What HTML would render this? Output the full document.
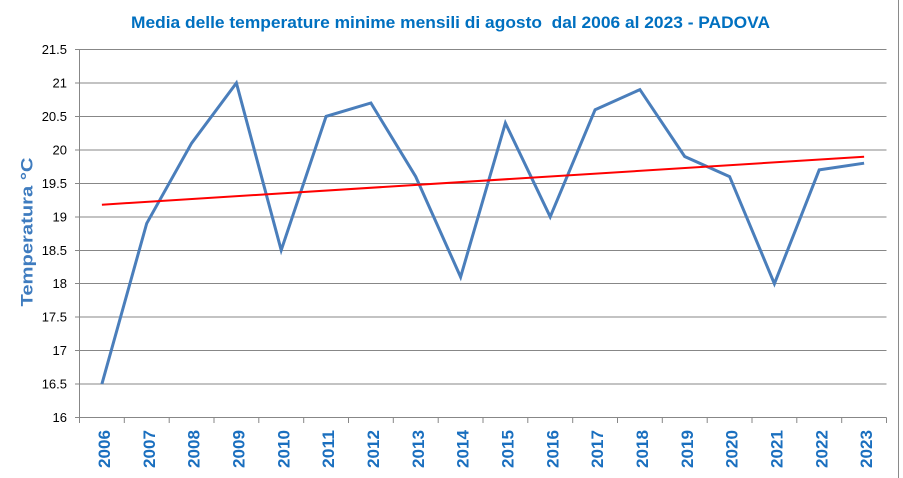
<!DOCTYPE html>
<html>
<head>
<meta charset="utf-8">
<style>
  html, body { margin: 0; padding: 0; background: #ffffff; }
  svg { display: block; }
  text { font-family: "Liberation Sans", sans-serif; }
</style>
</head>
<body>
<svg width="903" height="478" viewBox="0 0 903 478" xmlns="http://www.w3.org/2000/svg">
  <rect x="0" y="0" width="903" height="478" fill="#ffffff"/>
  <!-- outer border right -->
  <line x1="898.5" y1="0" x2="898.5" y2="478" stroke="#8a8a8a" stroke-width="1"/>

  <!-- title -->
  <text x="131" y="28" font-size="17" font-weight="bold" fill="#0070C0" textLength="639" lengthAdjust="spacingAndGlyphs">Media delle temperature minime mensili di agosto &#160;dal 2006 al 2023 - PADOVA</text>

  <!-- y axis title -->
  <text transform="translate(32.5,232) rotate(-90)" x="0" y="0" text-anchor="middle" font-size="17" font-weight="bold" fill="#3F7CBF" textLength="149" lengthAdjust="spacingAndGlyphs">Temperatura °C</text>

  <!-- gridlines -->
  <g stroke="#878787" stroke-width="1">
    <line x1="75" y1="49.5" x2="886.5" y2="49.5"/>
    <line x1="75" y1="83" x2="886.5" y2="83"/>
    <line x1="75" y1="116.5" x2="886.5" y2="116.5"/>
    <line x1="75" y1="150" x2="886.5" y2="150"/>
    <line x1="75" y1="183.5" x2="886.5" y2="183.5"/>
    <line x1="75" y1="217" x2="886.5" y2="217"/>
    <line x1="75" y1="250.5" x2="886.5" y2="250.5"/>
    <line x1="75" y1="283.5" x2="886.5" y2="283.5"/>
    <line x1="75" y1="317" x2="886.5" y2="317"/>
    <line x1="75" y1="350.5" x2="886.5" y2="350.5"/>
    <line x1="75" y1="384" x2="886.5" y2="384"/>
    <line x1="75" y1="417.5" x2="886.5" y2="417.5"/>
    <!-- y axis -->
    <line x1="79.5" y1="49.5" x2="79.5" y2="423"/>
    <!-- x ticks -->
    <line x1="124.3" y1="417.5" x2="124.3" y2="423"/>
    <line x1="169.2" y1="417.5" x2="169.2" y2="423"/>
    <line x1="214" y1="417.5" x2="214" y2="423"/>
    <line x1="258.8" y1="417.5" x2="258.8" y2="423"/>
    <line x1="303.7" y1="417.5" x2="303.7" y2="423"/>
    <line x1="348.5" y1="417.5" x2="348.5" y2="423"/>
    <line x1="393.3" y1="417.5" x2="393.3" y2="423"/>
    <line x1="438.2" y1="417.5" x2="438.2" y2="423"/>
    <line x1="483" y1="417.5" x2="483" y2="423"/>
    <line x1="527.8" y1="417.5" x2="527.8" y2="423"/>
    <line x1="572.7" y1="417.5" x2="572.7" y2="423"/>
    <line x1="617.5" y1="417.5" x2="617.5" y2="423"/>
    <line x1="662.3" y1="417.5" x2="662.3" y2="423"/>
    <line x1="707.2" y1="417.5" x2="707.2" y2="423"/>
    <line x1="752" y1="417.5" x2="752" y2="423"/>
    <line x1="796.8" y1="417.5" x2="796.8" y2="423"/>
    <line x1="841.7" y1="417.5" x2="841.7" y2="423"/>
    <line x1="886.5" y1="417.5" x2="886.5" y2="423"/>
  </g>

  <!-- y tick labels -->
  <g font-size="13" fill="#000000" text-anchor="end">
    <text x="67" y="54">21.5</text>
    <text x="67" y="87.5">21</text>
    <text x="67" y="121">20.5</text>
    <text x="67" y="154.5">20</text>
    <text x="67" y="188">19.5</text>
    <text x="67" y="221.5">19</text>
    <text x="67" y="255">18.5</text>
    <text x="67" y="288">18</text>
    <text x="67" y="321.5">17.5</text>
    <text x="67" y="355">17</text>
    <text x="67" y="388.5">16.5</text>
    <text x="67" y="422">16</text>
  </g>

  <!-- x tick labels -->
  <g font-size="17" font-weight="bold" fill="#1A6FBF" text-anchor="middle">
    <text transform="translate(110,449) rotate(-90)" textLength="38" lengthAdjust="spacingAndGlyphs">2006</text>
    <text transform="translate(154.8,449) rotate(-90)" textLength="38" lengthAdjust="spacingAndGlyphs">2007</text>
    <text transform="translate(199.7,449) rotate(-90)" textLength="38" lengthAdjust="spacingAndGlyphs">2008</text>
    <text transform="translate(244.5,449) rotate(-90)" textLength="38" lengthAdjust="spacingAndGlyphs">2009</text>
    <text transform="translate(289.3,449) rotate(-90)" textLength="38" lengthAdjust="spacingAndGlyphs">2010</text>
    <text transform="translate(334.2,449) rotate(-90)" textLength="38" lengthAdjust="spacingAndGlyphs">2011</text>
    <text transform="translate(379,449) rotate(-90)" textLength="38" lengthAdjust="spacingAndGlyphs">2012</text>
    <text transform="translate(423.8,449) rotate(-90)" textLength="38" lengthAdjust="spacingAndGlyphs">2013</text>
    <text transform="translate(468.7,449) rotate(-90)" textLength="38" lengthAdjust="spacingAndGlyphs">2014</text>
    <text transform="translate(513.5,449) rotate(-90)" textLength="38" lengthAdjust="spacingAndGlyphs">2015</text>
    <text transform="translate(558.3,449) rotate(-90)" textLength="38" lengthAdjust="spacingAndGlyphs">2016</text>
    <text transform="translate(603.2,449) rotate(-90)" textLength="38" lengthAdjust="spacingAndGlyphs">2017</text>
    <text transform="translate(648,449) rotate(-90)" textLength="38" lengthAdjust="spacingAndGlyphs">2018</text>
    <text transform="translate(692.8,449) rotate(-90)" textLength="38" lengthAdjust="spacingAndGlyphs">2019</text>
    <text transform="translate(737.7,449) rotate(-90)" textLength="38" lengthAdjust="spacingAndGlyphs">2020</text>
    <text transform="translate(782.5,449) rotate(-90)" textLength="38" lengthAdjust="spacingAndGlyphs">2021</text>
    <text transform="translate(827.3,449) rotate(-90)" textLength="38" lengthAdjust="spacingAndGlyphs">2022</text>
    <text transform="translate(872.2,449) rotate(-90)" textLength="38" lengthAdjust="spacingAndGlyphs">2023</text>
  </g>

  <!-- data series -->
  <polyline fill="none" stroke="#4A7EBB" stroke-width="3" stroke-linejoin="miter" stroke-miterlimit="4"
    points="101.9,384 146.7,223.4 191.6,143.2 236.4,83 281.2,250.2 326.1,116.4 370.9,103 415.7,176.6 460.6,277 505.4,123.1 550.2,216.8 595.1,109.7 639.9,89.6 684.7,156.5 729.6,176.6 774.4,283.7 819.2,169.9 864.1,163.2"/>

  <!-- trend line -->
  <line x1="101.9" y1="204.7" x2="864.1" y2="156.7" stroke="#FF0000" stroke-width="2"/>
</svg>
</body>
</html>
